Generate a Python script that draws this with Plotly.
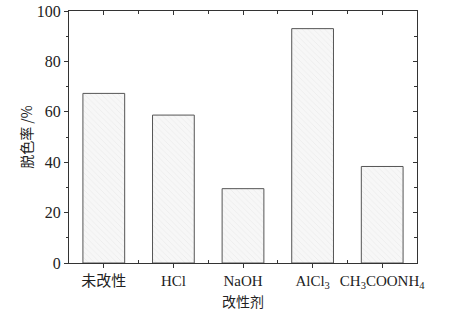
import plotly.graph_objects as go

categories = ["未改性", "HCl", "NaOH", "AlCl<sub>3</sub>", "CH<sub>3</sub>COONH<sub>4</sub>"]
decolor_rate = [67.3, 58.7, 29.5, 93.0, 38.3]

serif = "Liberation Serif, DejaVu Serif, Noto Sans CJK SC, serif"
axis_col = "#333333"

fig = go.Figure()
fig.add_trace(go.Bar(
    x=list(range(len(categories))),
    y=decolor_rate,
    width=0.6,
    marker=dict(
        color="white",
        line=dict(color="#555555", width=1),
        pattern=dict(shape="\\", fgcolor="#cfcfcf", bgcolor="#f7f7f7", size=4, solidity=0.12),
    ),
    showlegend=False,
))

fig.update_layout(
    width=462, height=316,
    margin=dict(l=69, r=45, t=11, b=53, autoexpand=False),
    paper_bgcolor="white", plot_bgcolor="white",
    font=dict(family=serif, color="#222222", size=14),
    xaxis=dict(
        range=[-0.5, 4.5], automargin=False,
        tickvals=list(range(len(categories))),
        ticktext=categories,
        showline=True, linecolor=axis_col, linewidth=1.2,
        ticks="outside", ticklen=4, tickcolor=axis_col,
        minor=dict(tickvals=[0.5, 1.5, 2.5, 3.5], ticks="inside", ticklen=3, tickcolor=axis_col),
        showgrid=False, zeroline=False,
        tickfont=dict(size=15, family=serif),
        title=dict(text="改性剂", font=dict(size=14, family="Noto Sans CJK SC"), standoff=6),
    ),
    yaxis=dict(
        range=[0, 100], automargin=False,
        tickvals=[0, 20, 40, 60, 80, 100],
        showline=True, linecolor=axis_col, linewidth=1.2,
        ticks="outside", ticklen=4, tickcolor=axis_col,
        minor=dict(tickvals=[10, 30, 50, 70, 90], ticks="outside", ticklen=2, tickcolor=axis_col),
        showgrid=False, zeroline=False,
        tickfont=dict(size=16, family=serif),
        title=dict(text="脱色率 /%", font=dict(size=14, family="Noto Sans CJK SC"), standoff=0),
    ),
    xaxis2=dict(
        overlaying="x", side="top", range=[-0.5, 4.5], automargin=False,
        tickvals=list(range(len(categories))), showticklabels=False,
        showline=True, linecolor=axis_col, linewidth=1.2,
        ticks="inside", ticklen=4, tickcolor=axis_col,
        minor=dict(tickvals=[0.5, 1.5, 2.5, 3.5], ticks="inside", ticklen=3, tickcolor=axis_col),
        showgrid=False, zeroline=False,
    ),
    yaxis2=dict(
        overlaying="y", side="right", range=[0, 100], automargin=False,
        tickvals=[0, 20, 40, 60, 80, 100], showticklabels=False,
        showline=True, linecolor=axis_col, linewidth=1.2,
        ticks="inside", ticklen=4, tickcolor=axis_col,
        minor=dict(tickvals=[10, 30, 50, 70, 90], ticks="inside", ticklen=3, tickcolor=axis_col),
        showgrid=False, zeroline=False,
    ),
)
# invisible trace to activate the mirror axes
fig.add_trace(go.Scatter(x=[None], y=[None], xaxis="x2", yaxis="y2", showlegend=False, hoverinfo="skip"))

fig.write_html("out.html", config={"displayModeBar": False},
               post_script="document.body.style.margin='0';")
